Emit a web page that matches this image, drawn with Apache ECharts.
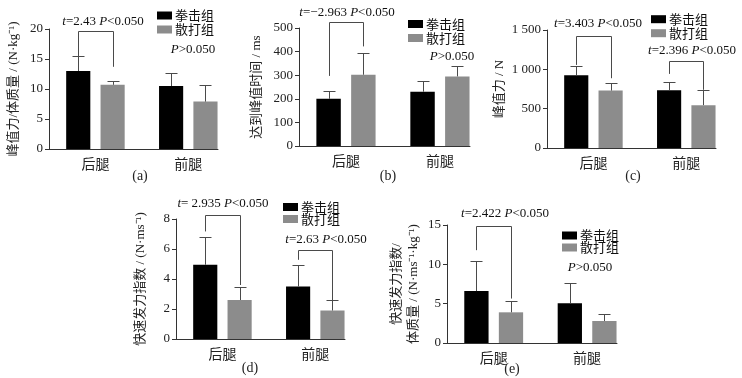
<!DOCTYPE html>
<html>
<head>
<meta charset="utf-8">
<script src="https://cdn.jsdelivr.net/npm/echarts@6/dist/echarts.min.js"></script>
<style>
  html, body { margin: 0; padding: 0; background: #fff; }
  #chart { width: 742px; height: 378px; }
</style>
</head>
<body>
<div id="chart"></div>
<script>
var categories = ['后腿', '前腿'];
var groupNames = ['拳击组', '散打组'];

// (a) 峰值力/体质量
var peakRelBoxing = [13.0, 10.5];
var peakRelBoxingSd = [2.5, 2.1];
var peakRelSanda = [10.7, 7.9];
var peakRelSandaSd = [0.7, 2.7];
var peakRelTicks = [0, 5, 10, 15, 20];
// [category, bracket top, left end, right end]
var peakRelBrackets = [[0, 19.7, 15.5, 13.7]];

// (b) 达到峰值时间
var timeBoxing = [200, 230];
var timeBoxingSd = [33, 45];
var timeSanda = [302, 295];
var timeSandaSd = [91, 45];
var timeTicks = [0, 100, 200, 300, 400, 500];
var timeBrackets = [[0, 524, 297, 422]];

// (c) 峰值力
var peakBoxing = [925, 735];
var peakBoxingSd = [120, 110];
var peakSanda = [730, 545];
var peakSandaSd = [90, 195];
var peakTicks = [0, 500, 1000, 1500];
var peakBrackets = [[0, 1424, 1056, 887], [1, 1107, 942, 740]];

// (d) 快速发力指数
var rfdBoxing = [4.95, 3.5];
var rfdBoxingSd = [1.85, 1.45];
var rfdSanda = [2.6, 1.9];
var rfdSandaSd = [0.9, 0.7];
var rfdTicks = [0, 2, 4, 6, 8];
var rfdBrackets = [[0, 8.24, 7.17, 3.6], [1, 5.95, 5.28, 2.6]];

// (e) 快速发力指数/体质量
var rfdRelBoxing = [6.6, 5.05];
var rfdRelBoxingSd = [3.8, 2.55];
var rfdRelSanda = [3.9, 2.8];
var rfdRelSandaSd = [1.4, 0.9];
var rfdRelTicks = [0, 5, 10, 15];
var rfdRelBrackets = [[0, 14.87, 11.8, 5.65]];

var SERIF = "'Liberation Serif', 'Noto Sans CJK SC', serif";
var CJK = "'Noto Sans CJK SC', sans-serif";
var BAR_W = 0.26;     // bar width in x units (one unit per category)
var OFFSET = 0.185;   // bar centre offset from group centre
var LINE = '#4a4a4a';
var colors = ['#000000', '#8c8c8c'];

var panels = [
  { tag: '(a)', left: 49, top: 29, width: 169, height: 120, ticks: peakRelTicks,
    name: '峰值力/体质量 / (N·kg⁻¹)', nameGap: 27,
    boxing: peakRelBoxing, boxingSd: peakRelBoxingSd, sanda: peakRelSanda, sandaSd: peakRelSandaSd,
    brackets: peakRelBrackets, legend: [157, 9, 1], tagPos: [140, 176] },
  { tag: '(b)', left: 299, top: 28, width: 171, height: 118, ticks: timeTicks,
    name: '达到峰值时间 / ms', nameGap: 34,
    boxing: timeBoxing, boxingSd: timeBoxingSd, sanda: timeSanda, sandaSd: timeSandaSd,
    brackets: timeBrackets, legend: [408, 17.5, 1], tagPos: [388, 176] },
  { tag: '(c)', left: 547, top: 30, width: 169, height: 118, ticks: peakTicks,
    name: '峰值力 / N', nameGap: 37,
    boxing: peakBoxing, boxingSd: peakBoxingSd, sanda: peakSanda, sandaSd: peakSandaSd,
    brackets: peakBrackets, legend: [651, 12.7, 1], tagPos: [633, 176] },
  { tag: '(d)', left: 176, top: 219, width: 169, height: 120, ticks: rfdTicks,
    name: '快速发力指数 / (N·ms⁻¹)', nameGap: 27,
    boxing: rfdBoxing, boxingSd: rfdBoxingSd, sanda: rfdSanda, sandaSd: rfdSandaSd,
    brackets: rfdBrackets, legend: [283, 200.5, -1], tagPos: [250, 368] },
  { tag: '(e)', left: 447, top: 225, width: 170, height: 118, ticks: rfdRelTicks,
    name: '快速发力指数/\n体质量 / (N·ms⁻¹·kg⁻¹)', nameGap: 25,
    boxing: rfdRelBoxing, boxingSd: rfdRelBoxingSd, sanda: rfdRelSanda, sandaSd: rfdRelSandaSd,
    brackets: rfdRelBrackets, legend: [562, 229, -1], tagPos: [512, 369] }
];

// significance texts, pixel centres
var notes = [
  ['{i|t}=2.43 {i|P}<0.050', 103, 22],
  ['{i|P}>0.050', 193, 50],
  ['{i|t}=−2.963 {i|P}<0.050', 347, 13],
  ['{i|P}>0.050', 452, 57],
  ['{i|t}=3.403 {i|P}<0.050', 598, 24],
  ['{i|t}=2.396 {i|P}<0.050', 692, 51],
  ['{i|t}= 2.935 {i|P}<0.050', 223, 204],
  ['{i|t}=2.63 {i|P}<0.050', 326, 240],
  ['{i|t}=2.422 {i|P}<0.050', 505, 214],
  ['{i|P}>0.050', 590, 268]
];

function crisp(v) { return Math.round(v) + 0.5; }

function barItem(offset, color) {
  return function (params, api) {
    var x = api.value(0) + offset;
    var y = api.value(1);
    var sd = api.value(2);
    var p0 = api.coord([x - BAR_W / 2, y]);
    var p1 = api.coord([x + BAR_W / 2, 0]);
    var pc = api.coord([x, y]);
    var pe = api.coord([x, y + sd]);
    var cx = crisp(pc[0]);
    var ey = crisp(pe[1]);
    return {
      type: 'group',
      children: [
        { type: 'rect', shape: { x: p0[0], y: p0[1], width: p1[0] - p0[0], height: p1[1] - p0[1] },
          style: { fill: color } },
        { type: 'line', shape: { x1: cx, y1: pc[1], x2: cx, y2: ey }, style: { stroke: LINE, lineWidth: 1 } },
        { type: 'line', shape: { x1: cx - 6, y1: ey, x2: cx + 6, y2: ey }, style: { stroke: LINE, lineWidth: 1 } }
      ]
    };
  };
}

function bracketItem(params, api) {
  var c = api.value(0) + 1;
  var pl = api.coord([c - OFFSET, api.value(2)]);
  var plt = api.coord([c - OFFSET, api.value(1)]);
  var prt = api.coord([c + OFFSET, api.value(1)]);
  var pr = api.coord([c + OFFSET, api.value(3)]);
  var xl = crisp(pl[0]), xr = crisp(pr[0]), yt = crisp(plt[1]);
  return {
    type: 'polyline',
    shape: { points: [[xl, pl[1]], [xl, yt], [xr, yt], [xr, pr[1]]] },
    style: { stroke: LINE, lineWidth: 1, fill: null }
  };
}

var grid = [], xAxis = [], yAxis = [], series = [], legend = [], graphic = [];

panels.forEach(function (p, k) {
  grid.push({ left: p.left, top: p.top, width: p.width, height: p.height, outerBoundsMode: 'none' });
  xAxis.push({
    type: 'value', gridIndex: k, min: 0.5, max: 2.32,
    axisLine: { show: true, lineStyle: { color: '#333', width: 1 } },
    axisTick: { show: false },
    splitLine: { show: false },
    axisLabel: {
      customValues: [1, 2],
      formatter: function (v) { return categories[Math.round(v) - 1]; },
      fontFamily: CJK, fontSize: 14, color: '#222', margin: 8
    }
  });
  var t = p.ticks;
  yAxis.push({
    type: 'value', gridIndex: k, min: t[0], max: t[t.length - 1], interval: t[1] - t[0],
    name: p.name, nameLocation: 'middle', nameRotate: 90, nameGap: p.nameGap,
    nameTextStyle: { fontFamily: SERIF, fontSize: 13, color: '#222', lineHeight: 17 },
    axisLine: { show: true, lineStyle: { color: '#333', width: 1 } },
    axisTick: { show: true, length: 4, lineStyle: { color: '#333' } },
    splitLine: { show: false },
    axisLabel: {
      fontFamily: SERIF, fontSize: 13, color: '#222', margin: 6,
      formatter: function (v) { return v >= 1000 ? Math.floor(v / 1000) + ' ' + String(v % 1000).padStart(3, '0') : v; }
    }
  });
  [[p.boxing, p.boxingSd, -OFFSET], [p.sanda, p.sandaSd, OFFSET]].forEach(function (g, j) {
    series.push({
      type: 'custom', name: groupNames[j], xAxisIndex: k, yAxisIndex: k,
      itemStyle: { color: colors[j] },
      renderItem: barItem(g[2], colors[j]),
      encode: { x: 0, y: 1 },
      data: categories.map(function (c, i) { return [i + 1, g[0][i], g[1][i]]; }),
      silent: true, z: 2
    });
  });
  series.push({
    type: 'custom', xAxisIndex: k, yAxisIndex: k,
    renderItem: bracketItem,
    encode: { x: 0, y: 1 },
    data: p.brackets, silent: true, z: 3
  });
  legend.push({
    left: p.legend[0], top: p.legend[1], orient: 'vertical', padding: 0,
    itemWidth: 15, itemHeight: 8, itemGap: p.legend[2], icon: 'rect',
    data: groupNames, selectedMode: false,
    textStyle: { fontFamily: CJK, fontSize: 13, color: '#111', lineHeight: 13, padding: [0, 0, 0, -2] }
  });
  graphic.push({
    type: 'text', x: p.tagPos[0], y: p.tagPos[1],
    style: { text: p.tag, fontFamily: SERIF, fontSize: 14, fill: '#222',
      align: 'center', verticalAlign: 'middle', textAlign: 'center', textVerticalAlign: 'middle' }
  });
});

notes.forEach(function (n) {
  graphic.push({
    type: 'text', x: n[1], y: n[2],
    style: {
      text: n[0], fontFamily: SERIF, fontSize: 13, fill: '#111',
      align: 'center', verticalAlign: 'middle', textAlign: 'center', textVerticalAlign: 'middle',
      rich: { i: { fontFamily: SERIF, fontSize: 13, fontStyle: 'italic', fill: '#111' } }
    }
  });
});

var myChart = echarts.init(document.getElementById('chart'));
myChart.setOption({
  animation: false,
  backgroundColor: '#fff',
  grid: grid,
  xAxis: xAxis,
  yAxis: yAxis,
  legend: legend,
  graphic: graphic,
  series: series
});
</script>
</body>
</html>
